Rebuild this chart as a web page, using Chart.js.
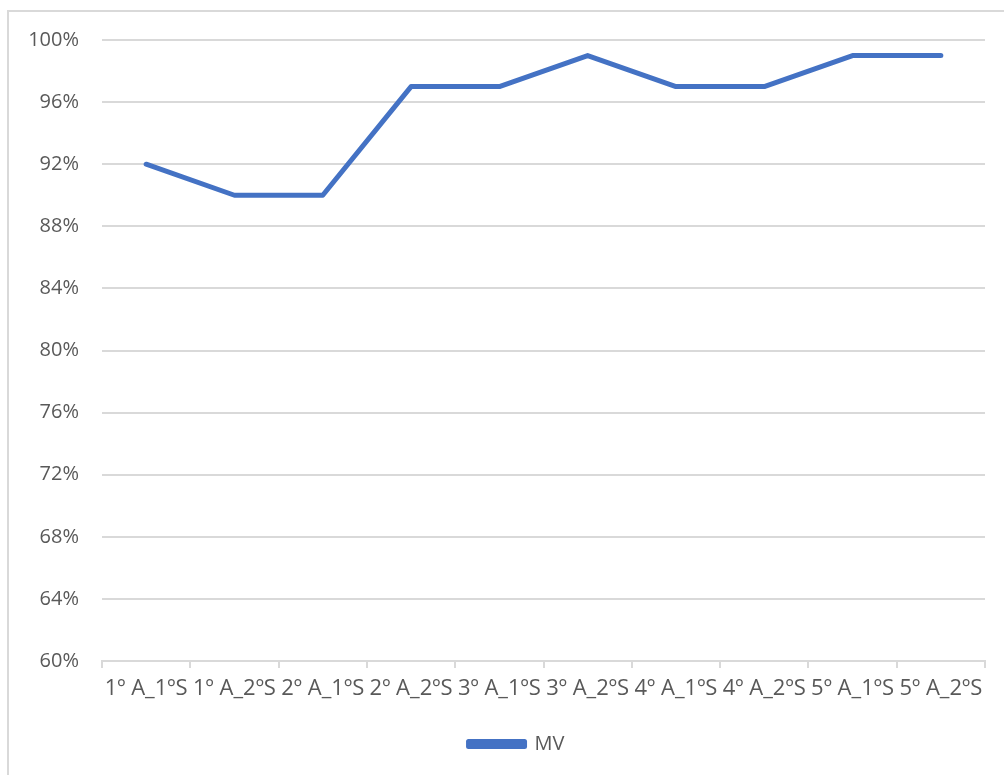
<!DOCTYPE html>
<html>
<head>
<meta charset="utf-8">
<script src="https://cdn.jsdelivr.net/npm/chart.js@4"></script>
<style>
    html, body { margin: 0; padding: 0; background: #fff; overflow: hidden; }
    #frame {
        position: absolute; left: 7px; top: 10px; width: 1100px; height: 900px;
        border: 2px solid #d9d9d9; box-sizing: border-box;
    }
    #wrap { position: absolute; left: 0; top: 0; width: 1004px; height: 775px; }
</style>
</head>
<body>
<div id="frame"></div>
<div id="wrap"><canvas id="chart" width="1004" height="775"></canvas></div>
<script>
// Semesters (x categories)
const semesters = ['1º A_1ºS', '1º A_2ºS', '2º A_1ºS', '2º A_2ºS', '3º A_1ºS',
                   '3º A_2ºS', '4º A_1ºS', '4º A_2ºS', '5º A_1ºS', '5º A_2ºS'];
// MV series, in percent
const mvValues = [92, 90, 90, 97, 97, 99, 97, 97, 99, 99];
// y axis range
const yMin = 60;
const yMax = 100;
const yStep = 4;

const textColor = '#595959';
const gridColor = '#d9d9d9';
const lineColor = '#4472C4';
const font = { family: '"Open Sans", sans-serif', size: 20 };
const xFont = { family: '"Open Sans", sans-serif', size: 22 };

// nudge the legend a bit to the right, like the original
const legendShift = {
    id: 'legendShift',
    afterLayout(chart) {
        if (!chart.legend) return;
        chart.legend.left += 24;
        chart.legend.right += 24;
    }
};

new Chart(document.getElementById('chart'), {
    type: 'line',
    data: {
        labels: semesters,
        datasets: [{
            label: 'MV',
            data: mvValues,
            borderColor: lineColor,
            backgroundColor: lineColor,
            borderWidth: 5,
            pointRadius: 0,
            tension: 0,
            borderCapStyle: 'round',
            borderJoinStyle: 'round'
        }]
    },
    plugins: [legendShift],
    options: {
        responsive: false,
        animation: false,
        layout: { padding: { left: 0, right: 19, top: 40, bottom: 11 } },
        scales: {
            x: {
                offset: true,
                grid: {
                    offset: true,
                    drawOnChartArea: false,
                    drawTicks: true,
                    tickLength: 7,
                    color: gridColor,
                    lineWidth: 2
                },
                border: { color: gridColor, width: 2 },
                ticks: {
                    color: textColor,
                    font: xFont,
                    autoSkip: false,
                    maxRotation: 0,
                    minRotation: 0,
                    padding: 8
                },
                afterFit: function (axis) { axis.height = 65; }
            },
            y: {
                min: yMin,
                max: yMax,
                grid: { color: gridColor, lineWidth: 2, drawTicks: false },
                border: { display: false },
                ticks: {
                    stepSize: yStep,
                    color: textColor,
                    font: font,
                    padding: 23,
                    callback: v => v + '%'
                },
                afterFit: function (axis) { axis.width = 102; }
            }
        },
        plugins: {
            legend: {
                position: 'bottom',
                labels: {
                    color: textColor,
                    font: font,
                    boxWidth: 56,
                    boxHeight: 5,
                    padding: 8
                }
            },
            tooltip: { enabled: false }
        }
    }
});
</script>
</body>
</html>
